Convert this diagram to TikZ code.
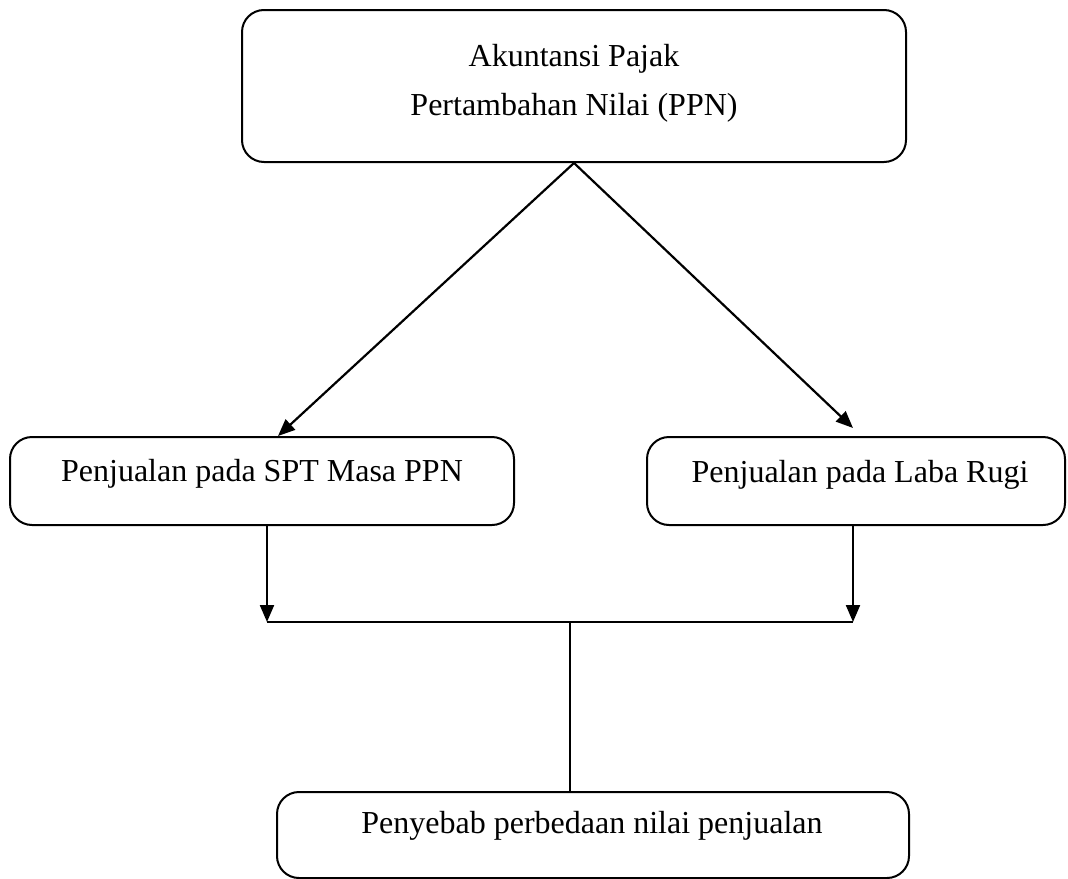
\documentclass[tikz,border=0pt]{standalone}
\usepackage{fontspec}
\setmainfont{Liberation Serif}
\usetikzlibrary{arrows.meta,calc}
\begin{document}
\begin{tikzpicture}[x=1pt,y=-1pt,
  box/.style={draw=black, line width=2pt, rounded corners=22pt, inner sep=0pt},
  txt/.style={font=\fontsize{32}{40}\selectfont, anchor=base, inner sep=0pt},
  arr/.style={draw=black, line width=2.2pt, -{Triangle[length=17pt,width=14pt]}},
  ln/.style={draw=black, line width=2.2pt}]
\useasboundingbox (0,0) rectangle (1068,878);
% boxes
\node[box, minimum width=664pt, minimum height=152pt] (top) at (574,86) {};
\node[box, minimum width=504pt, minimum height=88pt] (left) at (262,481) {};
\node[box, minimum width=418pt, minimum height=88pt] (right) at (856,481) {};
\node[box, minimum width=632pt, minimum height=86pt] (bottom) at (593,835) {};
% texts
\node[txt] (t1) at (574,66) {Akuntansi Pajak};
\node[txt] (t2) at (574,115) {Pertambahan Nilai (PPN)};
\node[txt] (t3) at (262,481) {Penjualan pada SPT Masa PPN};
\node[txt] (t4) at (860,482) {Penjualan pada Laba Rugi};
\node[txt] (t5) at (592,833) {Penyebab perbedaan nilai penjualan};
% connectors
\coordinate (join) at (570,622);
\coordinate (ls) at (267,525);
\coordinate (rs) at (853,525);
\coordinate (lj) at (267,622);
\coordinate (rj) at (853,622);
\coordinate (bj) at (570,792);
\coordinate (lt) at (278,436);
\coordinate (rt) at (853,428);
\draw[arr] (top.south) -- (lt);
\draw[arr] (top.south) -- (rt);
\draw[arr] (ls) -- (lj);
\draw[arr] (rs) -- (rj);
\draw[ln] (lj) -- (rj);
\draw[ln] (join) -- (bj);
\end{tikzpicture}
\end{document}
